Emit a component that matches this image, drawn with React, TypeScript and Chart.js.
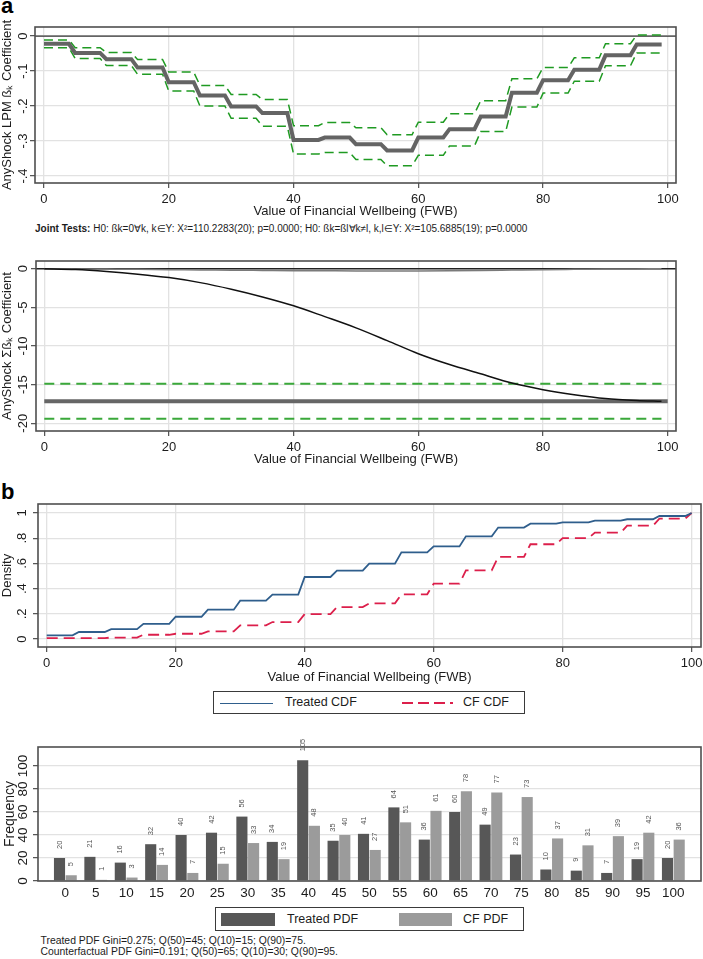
import React, { useEffect, useRef } from 'react';
import { Chart, registerables } from 'chart.js';

Chart.register(...registerables);

const FONT = "'Liberation Sans', Arial, Helvetica, sans-serif";
const INK = '#1c1c1c';
const FRAME = '#4f4f4f';
const GRID = '#e2e2e2';

// ---------- Panel a (top): AnyShock LPM coefficient per 5-point FWB bin ----------
const LPM_BINS = [0, 5, 10, 15, 20, 25, 30, 35, 40, 45, 50, 55, 60, 65, 70, 75, 80, 85, 90, 95];
const LPM_COEF = [-0.022, -0.048, -0.066, -0.09, -0.132, -0.17, -0.201, -0.22, -0.297, -0.29, -0.309, -0.327, -0.29, -0.266, -0.23, -0.162, -0.126, -0.096, -0.055, -0.024];
const LPM_UPPER = [-0.011, -0.033, -0.047, -0.067, -0.103, -0.141, -0.167, -0.181, -0.256, -0.247, -0.262, -0.282, -0.246, -0.222, -0.185, -0.122, -0.09, -0.062, -0.022, 0.003];
const LPM_LOWER = [-0.033, -0.064, -0.084, -0.109, -0.157, -0.2, -0.235, -0.258, -0.337, -0.333, -0.353, -0.371, -0.341, -0.314, -0.273, -0.203, -0.163, -0.129, -0.085, -0.048];
const LPM_Y_TICKS = [-0.4, -0.3, -0.2, -0.1, 0];
const FWB_X_TICKS = [0, 20, 40, 60, 80, 100];
const LPM_LAST_X = 99;

// ---------- Panel a (bottom): cumulative coefficient ----------
const CUM_X = [0, 5, 10, 15, 20, 25, 30, 35, 40, 45, 50, 55, 60, 65, 70, 75, 80, 85, 90, 95, 99];
const CUM_COEF = [0, -0.1, -0.35, -0.7, -1.15, -1.8, -2.65, -3.65, -4.8, -6.2, -7.65, -9.3, -11.0, -12.4, -13.6, -14.8, -15.65, -16.3, -16.8, -17.05, -17.15];
const CUM_NEAR_ZERO = [0, -0.02, -0.05, -0.08, -0.12, -0.15, -0.19, -0.22, -0.25, -0.27, -0.29, -0.3, -0.29, -0.26, -0.22, -0.17, -0.12, -0.08, -0.04, -0.02, 0];
const SUM_TOTAL = -17.15;
const SUM_CI_UPPER = -14.9;
const SUM_CI_LOWER = -19.4;
const SUM_TOTAL_RANGE = [0, 100];
const SUM_CI_RANGE = [0, 99];
const SUM_Y_TICKS = [-20, -15, -10, -5, 0];

// ---------- Panel b (top): CDFs ----------
const CDF_BINS = [0, 5, 10, 15, 20, 25, 30, 35, 40, 45, 50, 55, 60, 65, 70, 75, 80, 85, 90, 95, 100];
const TREATED_CDF = [0.029, 0.056, 0.079, 0.121, 0.177, 0.233, 0.304, 0.352, 0.492, 0.542, 0.598, 0.688, 0.735, 0.815, 0.884, 0.915, 0.926, 0.939, 0.95, 0.976, 1.0];
const CF_CDF = [0.008, 0.008, 0.012, 0.034, 0.042, 0.061, 0.109, 0.135, 0.198, 0.254, 0.283, 0.355, 0.439, 0.545, 0.651, 0.752, 0.8, 0.844, 0.899, 0.955, 1.0];
const DENSITY_Y_TICKS = [0, 0.2, 0.4, 0.6, 0.8, 1];
const CDF_LAST_X = 100;

// ---------- Panel b (bottom): PDFs ----------
const PDF_CATS = [0, 5, 10, 15, 20, 25, 30, 35, 40, 45, 50, 55, 60, 65, 70, 75, 80, 85, 90, 95, 100];
const TREATED_PDF = [20, 21, 16, 32, 40, 42, 56, 34, 105, 35, 41, 64, 36, 60, 49, 23, 10, 9, 7, 19, 20];
const CF_PDF = [5, 1, 3, 14, 7, 15, 33, 19, 48, 40, 27, 51, 61, 78, 77, 73, 37, 31, 39, 42, 36];
const FREQ_Y_TICKS = [0, 20, 40, 60, 80, 100];

const X_TITLE = 'Value of Financial Wellbeing (FWB)';
const JOINT_LABEL = 'Joint Tests:';
const JOINT_TEXT = 'H0: ßk=0∀k, k∈Y: X²=110.2283(20); p=0.0000; H0: ßk=ßl∀k≠l, k,l∈Y: X²=105.6885(19); p=0.0000';
const NOTE_1 = 'Treated PDF Gini=0.275; Q(50)=45; Q(10)=15; Q(90)=75.';
const NOTE_2 = 'Counterfactual PDF Gini=0.191; Q(50)=65; Q(10)=30; Q(90)=95.';

type Pt = { x: number; y: number };

const stepSeries = (starts: number[], vals: number[], last: number): Pt[] =>
  starts.flatMap((s, i) => {
    const end = Math.min(s + 4, last);
    return end > s ? [{ x: s, y: vals[i] }, { x: end, y: vals[i] }] : [{ x: s, y: vals[i] }];
  });

const pairs = (xs: number[], ys: number[]): Pt[] => xs.map((x, i) => ({ x, y: ys[i] }));
const flat = (range: number[], y: number): Pt[] => range.map((x) => ({ x, y }));

const stataNum = (v: number) => {
  const r = Math.round(v * 1000) / 1000;
  return String(r).replace(/^(-?)0\./, '$1.');
};

const framePlugin = {
  id: 'frame',
  afterDraw(chart: any) {
    const { ctx, chartArea: a } = chart;
    ctx.save();
    ctx.strokeStyle = FRAME;
    ctx.lineWidth = 1.6;
    ctx.strokeRect(a.left, a.top, a.right - a.left, a.bottom - a.top);
    ctx.restore();
  },
};

const zeroLinePlugin = {
  id: 'zeroLine',
  beforeDatasetsDraw(chart: any, _args: any, opts: any) {
    if (!opts || typeof opts.value !== 'number') return;
    const { ctx, chartArea: a } = chart;
    const y = chart.scales.y.getPixelForValue(opts.value);
    ctx.save();
    ctx.strokeStyle = opts.color || '#222';
    ctx.lineWidth = opts.width || 1.2;
    ctx.beginPath();
    ctx.moveTo(a.left, y);
    ctx.lineTo(a.right, y);
    ctx.stroke();
    ctx.restore();
  },
};

// Stata-style vertical (rotated) y-axis tick labels, taken from the scale's own ticks
const rotatedYTicksPlugin = {
  id: 'rotYTicks',
  afterDraw(chart: any, _args: any, opts: any) {
    const scale = chart.scales.y;
    if (!scale || !opts || typeof opts.x !== 'number') return;
    const { ctx } = chart;
    ctx.save();
    ctx.fillStyle = INK;
    ctx.font = `${opts.size}px ${FONT}`;
    ctx.textAlign = 'center';
    ctx.textBaseline = 'middle';
    scale.ticks.forEach((t: any) => {
      const y = scale.getPixelForValue(t.value);
      ctx.save();
      ctx.translate(opts.x, y);
      ctx.rotate(-Math.PI / 2);
      ctx.fillText(stataNum(t.value), 0, 0);
      ctx.restore();
    });
    ctx.restore();
  },
};

const barLabelPlugin = {
  id: 'barLabels',
  afterDatasetsDraw(chart: any, _args: any, opts: any) {
    if (!opts || !opts.show) return;
    const { ctx } = chart;
    ctx.save();
    ctx.fillStyle = opts.color;
    ctx.font = `${opts.size}px ${FONT}`;
    ctx.textAlign = 'left';
    ctx.textBaseline = 'middle';
    chart.data.datasets.forEach((ds: any, di: number) => {
      const meta = chart.getDatasetMeta(di);
      meta.data.forEach((el: any, i: number) => {
        const v = ds.data[i].y;
        ctx.save();
        ctx.translate(el.x, el.y - opts.gap);
        ctx.rotate(-Math.PI / 2);
        ctx.fillText(String(v), 0, 0);
        ctx.restore();
      });
    });
    ctx.restore();
  },
};

const fixedTicks = (values: number[]) => (scale: any) => {
  scale.ticks = values.map((v) => ({ value: v }));
};

function yScale(o: any) {
  return {
    type: 'linear',
    position: 'left',
    min: o.min,
    max: o.max,
    afterBuildTicks: fixedTicks(o.ticks),
    afterFit: (s: any) => {
      s.width = o.width;
      s.paddingTop = 0;
      s.paddingBottom = 0;
    },
    ticks: { display: false, autoSkip: false },
    grid: { color: GRID, lineWidth: 1.3, drawTicks: true, tickLength: 5, tickColor: FRAME, tickWidth: 1.2 },
    border: { display: false },
    title: {
      display: true,
      text: o.title,
      color: INK,
      font: { family: FONT, size: o.titleSize || 13 },
      padding: { top: o.titlePad || 0, bottom: 0 },
    },
  };
}

function xScale(o: any) {
  return {
    type: 'linear',
    position: 'bottom',
    min: o.min,
    max: o.max,
    offset: false,
    afterBuildTicks: fixedTicks(o.ticks),
    afterFit: (s: any) => {
      s.height = o.height;
      s.paddingLeft = 0;
      s.paddingRight = 0;
    },
    ticks: {
      autoSkip: false,
      minRotation: 0,
      maxRotation: 0,
      padding: o.pad,
      color: INK,
      font: { family: FONT, size: o.size },
      callback: (v: any) => String(v),
    },
    grid: {
      display: o.showGrid,
      drawOnChartArea: o.showGrid,
      color: GRID,
      lineWidth: 1.3,
      drawTicks: o.drawTicks,
      tickLength: 5,
      tickColor: FRAME,
      tickWidth: 1.2,
      offset: false,
    },
    border: { display: false },
    title: o.title
      ? { display: true, text: o.title, color: INK, font: { family: FONT, size: 13, lineHeight: 1 }, padding: 0 }
      : { display: false },
  };
}

const baseOptions = (padTop: number, padRight: number) => ({
  responsive: false,
  animation: false,
  devicePixelRatio: 1,
  events: [],
  layout: { padding: { left: 0, top: padTop, right: padRight, bottom: 0 } },
});

const lineDs = (data: Pt[], color: string, width: number, dash: number[] = [], extra: any = {}) => ({
  data,
  borderColor: color,
  backgroundColor: color,
  borderWidth: width,
  borderDash: dash,
  pointRadius: 0,
  tension: 0,
  fill: false,
  ...extra,
});

function panelA1(): any {
  return {
    type: 'line',
    data: {
      datasets: [
        lineDs(stepSeries(LPM_BINS, LPM_COEF, LPM_LAST_X), '#646464', 4),
        lineDs(stepSeries(LPM_BINS, LPM_UPPER, LPM_LAST_X), '#1f9a22', 1.5, [9, 5]),
        lineDs(stepSeries(LPM_BINS, LPM_LOWER, LPM_LAST_X), '#1f9a22', 1.5, [9, 5]),
      ],
    },
    options: {
      ...baseOptions(12, 27),
      plugins: {
        legend: { display: false },
        tooltip: { enabled: false },
        zeroLine: { value: 0, color: '#333', width: 1.3 },
        rotYTicks: { x: 23, size: 13 },
      },
      scales: {
        x: xScale({ min: -1.44, max: 101.3, ticks: FWB_X_TICKS, title: X_TITLE, height: 35, pad: 4, size: 13, drawTicks: true, showGrid: true }),
        y: yScale({ min: -0.42, max: 0.026, ticks: LPM_Y_TICKS, title: 'AnyShock LPM ßₖ Coefficient', width: 35 }),
      },
    },
    plugins: [zeroLinePlugin, framePlugin, rotatedYTicksPlugin],
  };
}

function panelA2(): any {
  return {
    type: 'line',
    data: {
      datasets: [
        lineDs(pairs(CUM_X, CUM_COEF), '#111111', 1.5, [], { cubicInterpolationMode: 'monotone' }),
        lineDs(flat(SUM_TOTAL_RANGE, SUM_TOTAL), '#666666', 4),
        lineDs(pairs(CUM_X, CUM_NEAR_ZERO), '#7a7a7a', 1.5, [], { cubicInterpolationMode: 'monotone' }),
        lineDs(flat(SUM_CI_RANGE, SUM_CI_UPPER), '#3aa83a', 2, [10, 6]),
        lineDs(flat(SUM_CI_RANGE, SUM_CI_LOWER), '#3aa83a', 2, [10, 6]),
      ],
    },
    options: {
      ...baseOptions(12, 27),
      plugins: {
        legend: { display: false },
        tooltip: { enabled: false },
        zeroLine: { value: 0, color: '#222', width: 1.3 },
        rotYTicks: { x: 23, size: 13 },
      },
      scales: {
        x: xScale({ min: -1.33, max: 101.33, ticks: FWB_X_TICKS, title: X_TITLE, height: 35, pad: 3.5, size: 13, drawTicks: true, showGrid: true }),
        y: yScale({ min: -21, max: 1, ticks: SUM_Y_TICKS, title: 'AnyShock Σßₖ Coefficient', width: 36 }),
      },
    },
    plugins: [zeroLinePlugin, framePlugin, rotatedYTicksPlugin],
  };
}

function panelB1(): any {
  return {
    type: 'line',
    data: {
      datasets: [
        lineDs(stepSeries(CDF_BINS, TREATED_CDF, CDF_LAST_X), '#2f5e8c', 1.8),
        lineDs(stepSeries(CDF_BINS, CF_CDF, CDF_LAST_X), '#dc1f4b', 1.8, [11, 6]),
      ],
    },
    options: {
      ...baseOptions(12, 2),
      plugins: {
        legend: { display: false },
        tooltip: { enabled: false },
        rotYTicks: { x: 22.5, size: 13 },
      },
      scales: {
        x: xScale({ min: -1.35, max: 101.45, ticks: FWB_X_TICKS, title: X_TITLE, height: 37, pad: 4, size: 13, drawTicks: true, showGrid: true }),
        y: yScale({ min: -0.063, max: 1.071, ticks: DENSITY_Y_TICKS, title: 'Density', width: 38 }),
      },
    },
    plugins: [framePlugin, rotatedYTicksPlugin],
  };
}

function panelB2(): any {
  return {
    type: 'bar',
    data: {
      datasets: [
        {
          label: 'Treated PDF',
          data: pairs(PDF_CATS, TREATED_PDF),
          backgroundColor: '#575757',
          borderWidth: 0,
          categoryPercentage: 0.77,
          barPercentage: 0.95,
        },
        {
          label: 'CF PDF',
          data: pairs(PDF_CATS, CF_PDF),
          backgroundColor: '#9b9b9b',
          borderWidth: 0,
          categoryPercentage: 0.77,
          barPercentage: 0.95,
        },
      ],
    },
    options: {
      ...baseOptions(12, 2),
      plugins: {
        legend: { display: false },
        tooltip: { enabled: false },
        barLabels: { show: true, color: '#555', size: 7.5, gap: 9 },
        rotYTicks: { x: 23.5, size: 13.5 },
      },
      scales: {
        x: xScale({ min: -4.5, max: 104.55, ticks: PDF_CATS, height: 25, pad: 4, size: 13.5, drawTicks: false, showGrid: false }),
        y: yScale({ min: 0, max: 116.5, ticks: FREQ_Y_TICKS, title: 'Frequency', width: 38, titleSize: 14, titlePad: 2 }),
      },
    },
    plugins: [framePlugin, barLabelPlugin, rotatedYTicksPlugin],
  };
}

function ChartPanel({ left, top, width, height, make }: { left: number; top: number; width: number; height: number; make: () => any }) {
  const ref = useRef<HTMLCanvasElement>(null);
  useEffect(() => {
    if (!ref.current) return;
    const chart = new Chart(ref.current, make());
    return () => chart.destroy();
  }, []);
  return (
    <div style={{ position: 'absolute', left, top, width, height }}>
      <canvas ref={ref} width={width} height={height} style={{ display: 'block', width, height }} />
    </div>
  );
}

const abs = (left: number, top: number, extra: React.CSSProperties = {}): React.CSSProperties => ({
  position: 'absolute',
  left,
  top,
  whiteSpace: 'nowrap',
  ...extra,
});

export default function App() {
  return (
    <div
      style={{
        position: 'absolute',
        left: 0,
        top: 0,
        width: 703,
        height: 959,
        background: '#ffffff',
        overflow: 'hidden',
        fontFamily: FONT,
        color: INK,
      }}
    >
      <div style={abs(1, -5, { fontSize: 22, lineHeight: '22px', fontWeight: 'bold', color: '#000' })}>a</div>
      <ChartPanel left={0} top={15} width={703} height={203} make={panelA1} />
      <div style={abs(35, 223, { fontSize: 10, lineHeight: '12px' })}>
        <span style={{ fontWeight: 'bold' }}>{JOINT_LABEL}</span> {JOINT_TEXT}
      </div>
      <ChartPanel left={0} top={249} width={703} height={217} make={panelA2} />

      <div style={abs(1, 481, { fontSize: 22, lineHeight: '22px', fontWeight: 'bold', color: '#000' })}>b</div>
      <ChartPanel left={0} top={492} width={703} height={192} make={panelB1} />

      <div style={abs(213, 691, { width: 312, height: 23, boxSizing: 'border-box', border: '1px solid #3a3a3a', background: '#fff' })}>
        <div style={abs(6, 10.5, { width: 53, height: 1.6, background: '#2f5e8c' })} />
        <div style={abs(71, 0, { fontSize: 12.5, lineHeight: '21px' })}>Treated CDF</div>
        <svg style={abs(188, 9, {})} width={51} height={4}>
          <line x1={0} y1={2} x2={51} y2={2} stroke="#dc1f4b" strokeWidth={1.8} strokeDasharray="11 5" />
        </svg>
        <div style={abs(249, 0, { fontSize: 12.5, lineHeight: '21px' })}>CF CDF</div>
      </div>

      <ChartPanel left={0} top={735} width={703} height={171} make={panelB2} />

      <div style={abs(215, 907, { width: 309, height: 24, boxSizing: 'border-box', border: '1px solid #3a3a3a', background: '#fff' })}>
        <div style={abs(5, 5, { width: 54, height: 12.5, background: '#575757' })} />
        <div style={abs(71, 0, { fontSize: 12.5, lineHeight: '22px' })}>Treated PDF</div>
        <div style={abs(183, 5, { width: 53, height: 12.5, background: '#9b9b9b' })} />
        <div style={abs(247, 0, { fontSize: 12.5, lineHeight: '22px' })}>CF PDF</div>
      </div>

      <div style={abs(40.5, 936, { fontSize: 10.4, lineHeight: '10px' })}>{NOTE_1}</div>
      <div style={abs(40.5, 947, { fontSize: 10.4, lineHeight: '10px' })}>{NOTE_2}</div>
    </div>
  );
}
